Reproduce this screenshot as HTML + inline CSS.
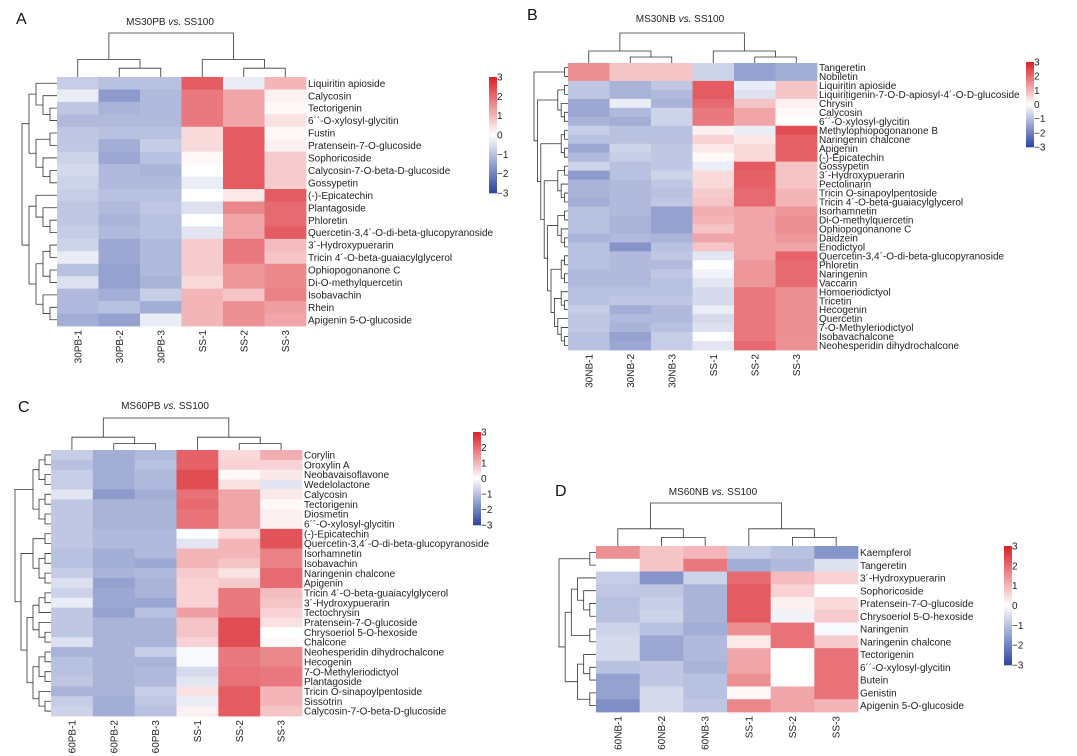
<!DOCTYPE html>
<html><head><meta charset="utf-8"><style>
html,body{margin:0;padding:0;background:#fff;}
svg{display:block;font-family:"Liberation Sans",Arial,sans-serif;}
</style></head><body>
<svg id="fig" width="1077" height="756" viewBox="0 0 1077 756">
<rect x="0" y="0" width="1077" height="756" fill="#fff"/>
</svg>
<script>
// ---------- DATA ----------
const colsA = ["30PB-1","30PB-2","30PB-3","SS-1","SS-2","SS-3"];
const rowsA = ["Liquiritin apioside","Calycosin","Tectorigenin","6\u00b4\u00b4-O-xylosyl-glycitin","Fustin","Pratensein-7-O-glucoside","Sophoricoside","Calycosin-7-O-beta-D-glucoside","Gossypetin","(-)-Epicatechin","Plantagoside","Phloretin","Quercetin-3,4\u00b4-O-di-beta-glucopyranoside","3\u00b4-Hydroxypuerarin","Tricin 4\u00b4-O-beta-guaiacylglycerol","Ophiopogonanone C","Di-O-methylquercetin","Isobavachin","Rhein","Apigenin 5-O-glucoside"];
const valsA = [
[-0.8,-1,-1,2.2,-0.3,1],[-0.3,-1.6,-1.1,1.8,1.2,0.2],[-0.9,-1.2,-1.1,1.8,1.2,0.1],[-1.1,-1.1,-1.1,1.8,1.2,0.4],
[-0.9,-1,-1,0.5,2.2,0.1],[-0.9,-1.3,-0.8,0.5,2.2,0.2],[-0.7,-1.4,-1,0.1,2.2,0.7],[-0.6,-1.1,-1.2,0,2.2,0.7],
[-0.7,-1.1,-1.1,-0.3,2.2,0.7],[-0.8,-1,-1,0,0.3,2.2],[-0.9,-1.1,-0.9,-0.5,1.6,2],[-0.9,-1.2,-1,0,1.2,2],
[-0.8,-1.1,-1,-0.4,1.2,2.2],[-0.7,-1.4,-1.1,0.7,1.8,0.9],[-0.3,-1.4,-1.1,0.7,1.8,0.8],[-1,-1.5,-1.1,0.7,1.4,1.6],
[-0.5,-1.5,-1.2,0.5,1.4,1.6],[-1.1,-1.3,-0.8,1,0.8,1.7],[-1.1,-1,-1.3,1,1.5,1.3],[-1.3,-1.5,-0.3,1,1.5,1.2]];

const colsB = ["30NB-1","30NB-2","30NB-3","SS-1","SS-2","SS-3"];
const rowsB = ["Tangeretin","Nobiletin","Liquiritin apioside","Liquiritigenin-7-O-D-apiosyl-4\u00b4-O-D-glucoside","Chrysin","Calycosin","6\u00b4\u00b4-O-xylosyl-glycitin","Methylophiopogonanone B","Naringenin chalcone","Apigenin","(-)-Epicatechin","Gossypetin","3\u00b4-Hydroxypuerarin","Pectolinarin","Tricin O-sinapoylpentoside","Tricin 4\u00b4-O-beta-guaiacylglycerol","Isorhamnetin","Di-O-methylquercetin","Ophiopogonanone C","Daidzein","Eriodictyol","Quercetin-3,4\u00b4-O-di-beta-glucopyranoside","Phloretin","Naringenin","Vaccarin","Homoeriodictyol","Tricetin","Hecogenin","Quercetin","7-O-Methyleriodictyol","Isobavachalcone","Neohesperidin dihydrochalcone"];
const valsB = [
[1.5,0.8,0.8,-0.7,-1.5,-1.3],[1.5,0.8,0.8,-0.7,-1.5,-1.3],[-0.9,-1.2,-0.9,2.2,-0.3,0.8],[-0.9,-1.2,-1.1,2.2,-0.5,0.8],
[-1.4,-0.3,-1.2,2,0.8,0.2],[-1.4,-1.1,-0.7,1.8,1.2,0.1],[-1.2,-1.3,-0.7,1.8,1.2,0],[-0.8,-1,-1,0.2,-0.3,2.4],
[-1,-1,-1,0.6,0.3,2.1],[-1.4,-0.7,-0.9,0.3,0.5,2.1],[-1.1,-0.8,-0.9,0.1,0.5,2.1],[-0.7,-1,-0.9,-0.3,2.2,0.8],
[-1.6,-1,-0.7,0.5,2.1,0.8],[-1.2,-1.1,-0.9,0.5,2.1,0.8],[-1.2,-1.1,-1,0.7,2,1],[-1.3,-1.1,-0.9,0.8,2,1],
[-1,-1.1,-1.5,1.1,1.2,1.4],[-1,-1.2,-1.5,1,1.2,1.5],[-1,-1.2,-1.5,0.8,1.2,1.5],[-1.2,-1.1,-1.2,1.2,1.2,1.4],
[-1,-1.7,-1,0.8,1.2,1.2],[-1,-1.1,-0.9,-0.4,1.2,2.1],[-1,-1.1,-1.1,0,1.4,2],[-1.1,-1.1,-0.9,-0.2,1.4,2],
[-1.1,-1.1,-1,-0.4,1.4,2],[-1,-1,-1,-0.6,1.8,1.5],[-1,-0.9,-0.9,-0.6,1.8,1.5],[-0.8,-1.3,-1.1,-0.3,1.8,1.5],
[-0.9,-1.1,-1.1,-0.6,1.8,1.5],[-0.9,-1.2,-1,-0.5,1.8,1.5],[-1,-1.5,-0.8,0,1.8,1.5],[-1,-1.4,-0.8,-0.4,2,1.5]];

const colsC = ["60PB-1","60PB-2","60PB-3","SS-1","SS-2","SS-3"];
const rowsC = ["Corylin","Oroxylin A","Neobavaisoflavone","Wedelolactone","Calycosin","Tectorigenin","Diosmetin","6\u00b4\u00b4-O-xylosyl-glycitin","(-)-Epicatechin","Quercetin-3,4\u00b4-O-di-beta-glucopyranoside","Isorhamnetin","Isobavachin","Naringenin chalcone","Apigenin","Tricin 4\u00b4-O-beta-guaiacylglycerol","3\u00b4-Hydroxypuerarin","Tectochrysin","Pratensein-7-O-glucoside","Chrysoeriol 5-O-hexoside","Chalcone","Neohesperidin dihydrochalcone","Hecogenin","7-O-Methyleriodictyol","Plantagoside","Tricin O-sinapoylpentoside","Sissotrin","Calycosin-7-O-beta-D-glucoside"];
const valsC = [
[-0.8,-1.3,-1.1,2.1,0.5,1.1],[-1,-1.3,-1,2.1,0.6,0.6],[-0.8,-1.3,-1.1,2.4,0.1,0.3],[-0.8,-1.3,-1.1,2.4,0.4,-0.4],
[-0.4,-1.6,-1.3,1.9,1.2,0.3],[-0.9,-1.2,-1.2,2,1.2,0.1],[-0.9,-1.2,-1.2,1.9,1.2,0.2],[-0.9,-1.2,-1.2,1.9,1.2,0.2],
[-0.9,-1.1,-1.1,0,0.5,2.3],[-0.9,-1.1,-1.1,-0.4,1,2.3],[-1,-1.3,-1.1,1,1,1.7],[-1,-1.3,-1.4,1,0.8,1.7],
[-0.8,-1.2,-1.1,0.7,0.4,2],[-0.5,-1.5,-1.2,0.6,0.7,2],[-0.7,-1.4,-1.2,0.6,1.8,0.9],[-0.3,-1.4,-1.4,0.6,1.8,0.8],
[-0.9,-1.5,-1,1.3,1.8,0.6],[-0.9,-1.2,-1.2,0.8,2.4,0.4],[-0.9,-1.2,-1.2,0.8,2.4,0],[-0.5,-1.2,-1.2,0.6,2.4,0.1],
[-1.2,-1.2,-0.8,-0.1,1.8,1.6],[-1,-1.2,-1.2,-0.1,1.8,1.6],[-1,-1.2,-1.1,-0.6,1.9,1.8],[-0.9,-1.2,-1.1,-0.4,1.9,1.8],
[-1.2,-1.2,-0.8,0.4,2.2,1],[-0.8,-1.3,-0.9,-0.3,2.2,1],[-0.7,-1.3,-1,0.2,2.2,0.8]];

const colsD = ["60NB-1","60NB-2","60NB-3","SS-1","SS-2","SS-3"];
const rowsD = ["Kaempferol","Tangeretin","3\u00b4-Hydroxypuerarin","Sophoricoside","Pratensein-7-O-glucoside","Chrysoeriol 5-O-hexoside","Naringenin","Naringenin chalcone","Tectorigenin","6\u00b4\u00b4-O-xylosyl-glycitin","Butein","Genistin","Apigenin 5-O-glucoside"];
const valsD = [
[1.5,0.8,1,-0.8,-1,-1.7],[0,0.8,1.8,-1.3,-1.1,-0.5],[-0.8,-1.7,-0.7,2,0.9,0.6],[-0.9,-0.9,-1.2,2.2,0.6,0],
[-1,-0.8,-1.2,2.2,0.2,0.5],[-1,-0.7,-1.2,2.2,-0.2,0.7],[-0.7,-1,-1.3,1.5,1.9,-0.1],[-0.6,-1.4,-1.1,0.3,1.9,0.7],
[-0.6,-1.4,-1.1,1.2,0,1.9],[-1,-0.9,-1.2,1.2,0,1.9],[-1.5,-0.9,-1,1.5,0,1.9],[-1.5,-0.6,-1,0.1,1.2,1.9],[-1.8,-0.6,-0.9,1.6,1.2,1]];

const colTree = [[0,[1,2]],[3,[4,5]]];
const treeA = [[[0,[1,[2,3]]],[[4,5],[6,[7,8]]]],[[9,[10,[11,12]]],[[[13,14],[15,16]],[17,[18,19]]]]];
const treeB = [[0,1],[[[2,3],[4,[5,6]]],[[[7,8],[9,10]],[[[11,12],[13,[14,15]]],[[[16,17],[18,[19,20]]],[[[21,22],[23,24]],[[25,[26,27]],[28,[29,[30,31]]]]]]]]]];
const treeC = [[[[0,1],[2,3]],[[4,5],[6,7]]],[[[8,9],[[10,11],[12,13]]],[[[[14,15],16],[17,[18,19]]],[[[20,21],[22,23]],[24,[25,26]]]]]];
const treeD = [[0,1],[[[2,[3,[4,5]]],[6,7]],[[8,[9,10]],[11,12]]]];
const cbTicks = [3,2,1,0,-1,-2,-3];

// ---------- LAYOUT ----------
const panels = [
 {key:'a',letter:'A',t1:'MS30PB',x0:57,x1:306,y0:77,y1:326,dl:22,dt:33,cols:colsA,rows:rowsA,vals:valsA,tree:treeA,cbx:489,cby0:77,cby1:193,lx:16,ly:24,tx:170,ty:25},
 {key:'b',letter:'B',t1:'MS30NB',x0:568,x1:817,y0:63,y1:350,dl:534,dt:33,cols:colsB,rows:rowsB,vals:valsB,tree:treeB,cbx:1026,cby0:62,cby1:147,lx:527,ly:20,tx:680,ty:22},
 {key:'c',letter:'C',t1:'MS60PB',x0:51,x1:302,y0:450,y1:716,dl:15,dt:418,cols:colsC,rows:rowsC,vals:valsC,tree:treeC,cbx:473,cby0:432,cby1:525,lx:18,ly:412,tx:165,ty:409},
 {key:'d',letter:'D',t1:'MS60NB',x0:596,x1:858,y0:546,y1:712,dl:559,dt:503,cols:colsD,rows:rowsD,vals:valsD,tree:treeD,cbx:1004,cby0:546,cby1:665,lx:555,ly:496,tx:713,ty:495}
];

const NS='http://www.w3.org/2000/svg';
const svg=document.getElementById('fig');
function mk(tag,attrs,parent){const e=document.createElementNS(NS,tag);for(const k in attrs)e.setAttribute(k,attrs[k]);(parent||svg).appendChild(e);return e;}
function color(v){
  let t=Math.max(-1,Math.min(1,v/3));
  const w=[255,255,255], r=[218,32,40], b=[42,68,160];
  const c=t>=0?r:b, a=Math.abs(t);
  return 'rgb('+w.map((x,i)=>Math.round(x+(c[i]-x)*a)).join(',')+')';
}
function height(n){return typeof n==='number'?0:1+Math.max(height(n[0]),height(n[1]));}

panels.forEach(p=>{
  const g=mk('g',{});
  
  
  const nc=p.cols.length, nr=p.rows.length;
  const cw=(p.x1-p.x0)/nc, rh=(p.y1-p.y0)/nr;
  const xS=j=>p.x0+j*cw, yS=i=>p.y0+i*rh;
  // letter
  const L=mk('text',{x:p.lx,y:p.ly,'font-size':16,fill:'#111'},g);L.textContent=p.letter;
  
  
  // title
  const T=mk('text',{x:p.tx,y:p.ty,'font-size':10,'text-anchor':'middle',fill:'#222'},g);
  
  
  const s1=mk('tspan',{},T);s1.textContent=p.t1+' ';
  const s2=mk('tspan',{'font-style':'italic'},T);s2.textContent='vs.';
  const s3=mk('tspan',{},T);s3.textContent=' SS100';
  // cells
  p.vals.forEach((row,i)=>row.forEach((v,j)=>{
    const r=mk('rect',{x:xS(j).toFixed(2),y:yS(i).toFixed(2),width:(cw+0.4).toFixed(2),height:(rh+0.4).toFixed(2),fill:color(v)},g);
    
    
  }));
  // row labels
  p.rows.forEach((n,i)=>{
    const t=mk('text',{x:p.x1+2,y:(yS(i)+rh/2+3.6).toFixed(2),'font-size':10,fill:'#222'},g);t.textContent=n;
    
    
  });
  // col labels
  p.cols.forEach((n,j)=>{
    const cx=xS(j)+cw/2, cy=p.y1+4;
    const t=mk('text',{x:cx,y:cy,'font-size':10,'text-anchor':'end',fill:'#222',transform:'rotate(-90 '+cx+' '+cy+')',dy:'0.35em'},g);t.textContent=n;
    
    
  });
  // row dendrogram
  const rH=height(p.tree);
  const dg=mk('g',{stroke:'#333','stroke-width':0.8,fill:'none'},g);
  
  
  function drawRow(n){
    if(typeof n==='number')return {y:yS(n)+rh/2,x:p.x0};
    const a=drawRow(n[0]), b=drawRow(n[1]);
    const x=p.x0-(height(n)/rH)*(p.x0-p.dl);
    mk('path',{d:`M${a.x},${a.y}H${x}V${b.y}H${b.x}`},dg);
    return {y:(a.y+b.y)/2,x:x};
  }
  drawRow(p.tree);
  // column dendrogram
  const cH=height(colTree);
  const cg=mk('g',{stroke:'#333','stroke-width':0.8,fill:'none'},g);
  
  
  function drawCol(n){
    if(typeof n==='number')return {x:xS(n)+cw/2,y:p.y0};
    const a=drawCol(n[0]), b=drawCol(n[1]);
    const h=height(n);
    const y=p.y0-(h===cH?1:h/cH*0.6)*(p.y0-p.dt);
    mk('path',{d:`M${a.x},${a.y}V${y}H${b.x}V${b.y}`},cg);
    return {x:(a.x+b.x)/2,y:y};
  }
  drawCol(colTree);
  // colorbar
  const cb=mk('g',{},g);
  
  
  const N=60, bh=(p.cby1-p.cby0)/N;
  for(let k=0;k<N;k++){
    const v=3-6*(k+0.5)/N;
    mk('rect',{x:p.cbx,y:(p.cby0+k*bh).toFixed(2),width:8,height:(bh+0.3).toFixed(2),fill:color(v)},cb);
  }
  cbTicks.forEach(tk=>{
    const y=p.cby0+(3-tk)/6*(p.cby1-p.cby0);
    const t=mk('text',{x:p.cbx+8,y:(y+3.5).toFixed(2),'font-size':10,fill:'#222'},cb);
    t.textContent=tk<0?'\u2212'+(-tk):String(tk);
    
    
  });
});
</script>
</body></html>
